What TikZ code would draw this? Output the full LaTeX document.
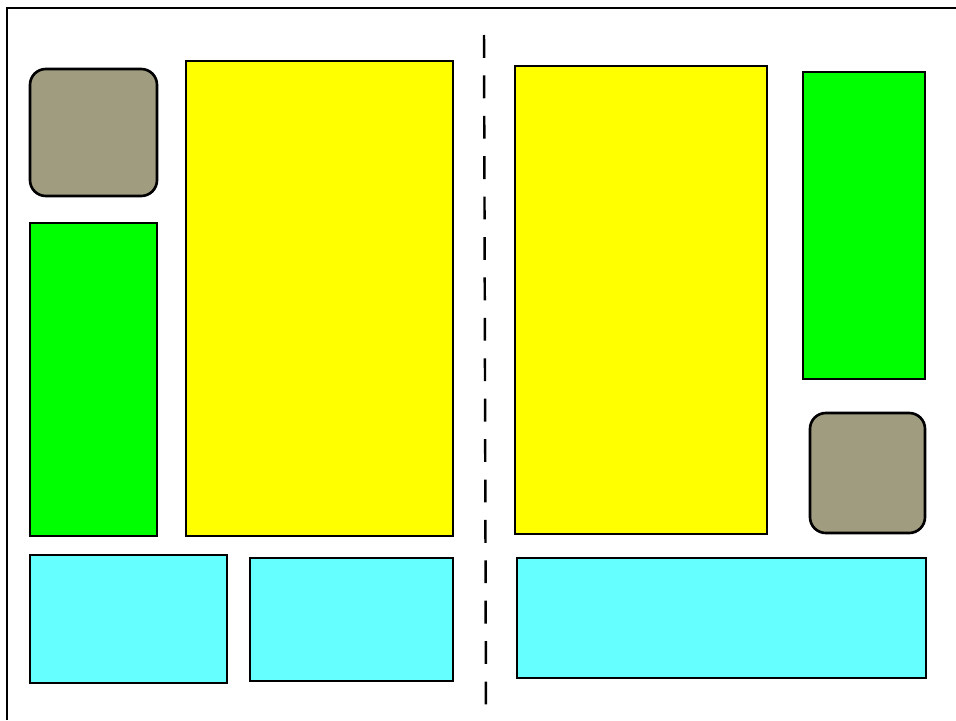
\documentclass[tikz,border=0pt]{standalone}
\usepackage{tikz}

\definecolor{stone}{RGB}{160,156,128}
\definecolor{lemon}{RGB}{255,255,0}
\definecolor{leaf}{RGB}{0,255,0}
\definecolor{aqua}{RGB}{102,255,255}

\begin{document}
\begin{tikzpicture}[
  x=0.02cm, y=-0.02cm,
  panel/.style={draw, line width=1.5pt},
  knob/.style={panel, fill=stone, rounded corners=9pt},
  sheet/.style={panel, fill=lemon},
  strip/.style={panel, fill=leaf},
  band/.style={panel, fill=aqua},
  fold/.style={line width=1.4pt, dash pattern=on 13pt off 10pt}
]
\useasboundingbox (0,0) rectangle (956,720);
% frame, only top and left edges show
\draw[line width=1.5pt] (7,720) -- (7,8) -- (956,8);
% left page
\draw[knob]  (30,69)   rectangle (157,196);
\draw[sheet] (186,61)  rectangle (453,536);
\draw[strip] (30,223)  rectangle (157,536);
\draw[band]  (30,555)  rectangle (227,683);
\draw[band]  (250,558) rectangle (453,681);
% middle fold
\draw[fold] (484,35) -- (486,720);
% right page
\draw[sheet] (515,66)  rectangle (767,534);
\draw[strip] (803,72)  rectangle (925,379);
\draw[knob]  (810,413) rectangle (925,533);
\draw[band]  (517,558) rectangle (926,678);
\end{tikzpicture}
\end{document}
